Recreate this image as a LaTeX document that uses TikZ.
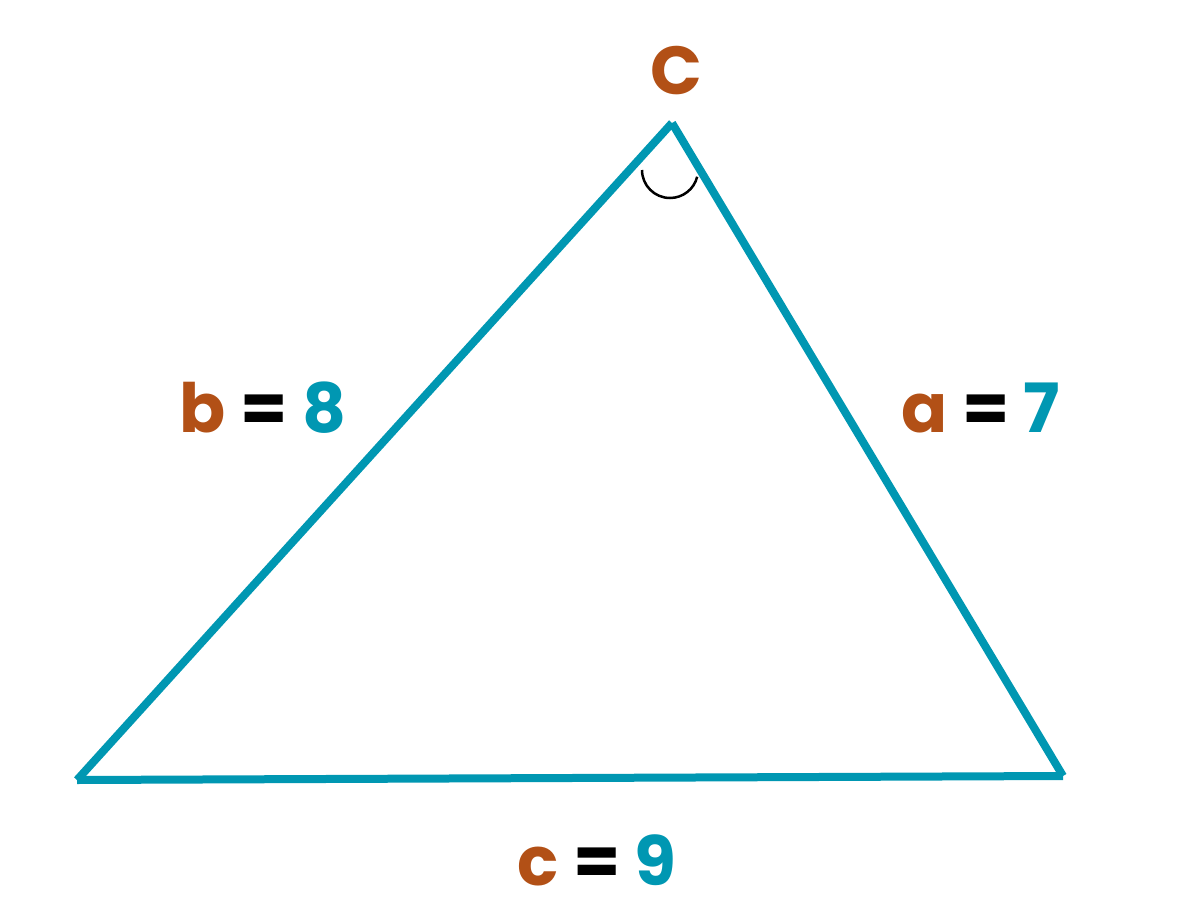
\documentclass[tikz,border=0pt]{standalone}
\usepackage{fontspec}
\setmainfont{Poppins}
\usepackage{tikz}

\definecolor{tealside}{RGB}{0,151,178}
\definecolor{brownlabel}{RGB}{178,80,22}

\begin{document}
\begin{tikzpicture}[x=1pt, y=-1pt, side/.style = {draw=tealside, line width=8pt, line cap=butt}, lbl/.style = {font=\fontsize{68}{80}\selectfont\bfseries, inner sep=0pt, anchor=base}]
	\useasboundingbox (0,0) rectangle (1182,920);
	\coordinate (A) at (77,780);
	\coordinate (B) at (1063,776);
	\coordinate (C) at (672,123);
	\coordinate (arcstart) at (642,170);
	\draw[side] (A) -- (B);
	\draw[side] (A) -- (C);
	\draw[side] (C) -- (B);
	\draw[line width=2.5pt] (arcstart) arc[start angle=180, end angle=14, radius=28];
	\node[lbl, text=brownlabel] (labC) at (676,95) {C};
	\node[lbl] (labb) at (263,432) {{\color{brownlabel}b} = {\color{tealside}8}};
	\node[lbl] (laba) at (981,432) {{\color{brownlabel}a} = {\color{tealside}7}};
	\node[lbl] (labc) at (597,885) {{\color{brownlabel}c} = {\color{tealside}9}};
\end{tikzpicture}
\end{document}
